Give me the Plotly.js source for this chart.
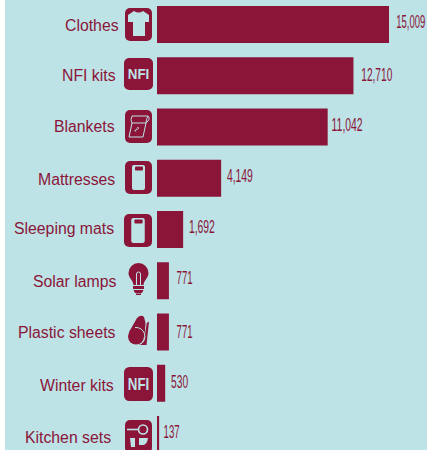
<!DOCTYPE html>
<html><head><meta charset="utf-8">
<script src="https://cdn.plot.ly/plotly-3.0.1.min.js"></script>
<style>html,body{margin:0;padding:0;background:#fff;overflow:hidden}</style>
</head><body><div id="chart" style="width:427px;height:450px"></div>
<script>
const categories = ["Clothes","NFI kits","Blankets","Mattresses","Sleeping mats","Solar lamps","Plastic sheets","Winter kits","Kitchen sets"];
const values = [15009,12710,11042,4149,1692,771,771,530,137];

const RED = "#8A1538", BG = "#BEE3E7";
const W = 427, H = 450, LEFT = 5, ZERO = 157;
const PX_PER_UNIT = 232 / 15009;
const PITCH = 51.25, FIRST = 24.5;

const labelEdge = [120.5,118,116.5,116.5,116,119,118,116,113];
const labelMid  = [25,76,126,179,228,281,332,385,437];
const valueLeft = [396,361,331,227,189,176,176,171,163];
const valueWidth = [29,31,31,26,26,16,16,17,16];
const valueMid  = [22,75,125,176,227,278,332,382,432];
const iconBox = [[125,8,27,33],[124,58,29,32],[125,110,27,33],[125,161,27,33],[124,214,28,33],[128,263,21,32],[128,315,21,30],[124,367,29,34],[125,420,27,33]];

const box = inner => `<rect x="0" y="0" width="27" height="33" rx="5" fill="${RED}"/>` + inner;
const shirt = box(`<path d="M9 3 Q13.5 6 18 3 L24 7 L24 14 L20 14 L20 28 L8 28 L8 14 L3 14 L3 7 Z" fill="${BG}"/>`);
const nfi = box(`<text x="13.5" y="22" text-anchor="middle" font-family="Liberation Sans" font-weight="700" font-size="15.5" textLength="20" lengthAdjust="spacingAndGlyphs" fill="${BG}">NFI</text>`);
const blanket = box(`<path d="M7 6 L23 6 Q21 9 21 13 L18 27 L4 27 L7 13 L21 13 M7 6 Q5 10 7 13" fill="none" stroke="${BG}" stroke-width="1"/><path d="M23 6 Q26 9 21 13" fill="none" stroke="${BG}" stroke-width="1"/><path d="M10 21 L14 17" stroke="${BG}" stroke-width="2" stroke-dasharray="1 1"/>`);
const mattress = box(`<rect x="7" y="4" width="13" height="25" rx="2" fill="${BG}"/><rect x="10" y="5.5" width="8" height="4" rx="1" fill="${RED}"/>`);
const lamp = `<svg viewBox="0 0 21 32" xmlns="http://www.w3.org/2000/svg"><path d="M10.5 0 A10 10 0 0 1 20.5 10 C20.5 15 16 17 15.5 22 L5.5 22 C5 17 .5 15 .5 10 A10 10 0 0 1 10.5 0 Z" fill="${RED}"/><path d="M8.5 22 L8.5 11 A2 2 0 1 1 12.5 11 L12.5 22" fill="none" stroke="${BG}" stroke-width="1"/><rect x="5" y="23" width="11" height="3" fill="${RED}"/><path d="M5.5 27 L15.5 27 L14 30 L7 30 Z" fill="${RED}"/><rect x="8" y="30.5" width="5" height="1.5" fill="${RED}"/></svg>`;
const sheet = `<svg viewBox="0 0 21 30" xmlns="http://www.w3.org/2000/svg"><path d="M1 17 L9 3 Q13 -1 16 2 L17.5 8 L16.5 22 L8 22 Z" fill="${RED}"/><circle cx="8" cy="21.5" r="8" fill="${RED}"/><path d="M18.8 8 L21 6.5 L18.5 30 L11 30 L16 26 Z" fill="${RED}"/><path d="M7 12.5 A9 9 0 0 1 12 29.5" fill="none" stroke="${BG}" stroke-width="1"/></svg>`;
const kitchen = box(`<circle cx="18" cy="9.5" r="4.5" fill="${RED}" stroke="${BG}" stroke-width="1.6"/><rect x="2" y="8.7" width="11" height="1.6" fill="${BG}"/><path d="M5 18 L10 18 L10 27 L6 27 Z" fill="${BG}"/><path d="M14 18 L23 18 Q22 25 18 25 L14 25 Z" fill="${BG}"/>`);
const wrap = s => `<svg viewBox="0 0 27 33" preserveAspectRatio="none" xmlns="http://www.w3.org/2000/svg">${s}</svg>`;
const icons = [wrap(shirt),wrap(nfi),wrap(blanket),wrap(mattress),wrap(mattress),lamp,sheet,wrap(nfi),wrap(kitchen)];

const fmt = v => v.toLocaleString("en-US");
const xAt = px => (px - ZERO) / PX_PER_UNIT;
const yAt = py => (py - FIRST) / PITCH;

const annotations = [];
categories.forEach((c,i)=>{
  annotations.push({xref:"x",yref:"paper",x:0,y:1-labelMid[i]/H,xshift:labelEdge[i]-ZERO,xanchor:"right",yanchor:"middle",showarrow:false,text:c,font:{family:"Liberation Sans",size:15.8,color:RED}});
  annotations.push({xref:"x",yref:"paper",x:0,y:1-valueMid[i]/H,xshift:valueLeft[i]+valueWidth[i]/2-ZERO,xanchor:"center",yanchor:"middle",showarrow:false,text:fmt(values[i]),font:{family:"Liberation Sans",size:17.5,color:RED}});
});

const images = icons.map((s,i)=>{
  const b = iconBox[i];
  return {source:"data:image/svg+xml;base64,"+btoa(s),xref:"paper",yref:"paper",x:(b[0]-LEFT)/(W-LEFT),y:1-b[1]/H,sizex:b[2]/(W-LEFT),sizey:b[3]/H,sizing:"stretch",xanchor:"left",yanchor:"top",layer:"above"};
});

Plotly.newPlot("chart",[{type:"bar",orientation:"h",y:categories,x:values,width:37/PITCH,marker:{color:RED,line:{width:0}},hoverinfo:"x+y"}],{
  width:W,height:H,margin:{l:LEFT,r:0,t:0,b:0},paper_bgcolor:"#fff",plot_bgcolor:BG,showlegend:false,
  xaxis:{range:[xAt(LEFT),xAt(W)],visible:false,fixedrange:true},
  yaxis:{type:"category",categoryorder:"array",categoryarray:categories,range:[yAt(H),yAt(0)],visible:false,fixedrange:true},
  annotations,images
},{displayModeBar:false,responsive:false}).then(()=>{
  document.querySelectorAll(".annotation-text").forEach(t=>{
    const raw=t.getAttribute("data-unformatted");
    const i=values.findIndex(v=>fmt(v)===raw);
    if(i>=0){t.setAttribute("textLength",valueWidth[i]);t.setAttribute("lengthAdjust","spacingAndGlyphs");}
  });
});
</script></body></html>
